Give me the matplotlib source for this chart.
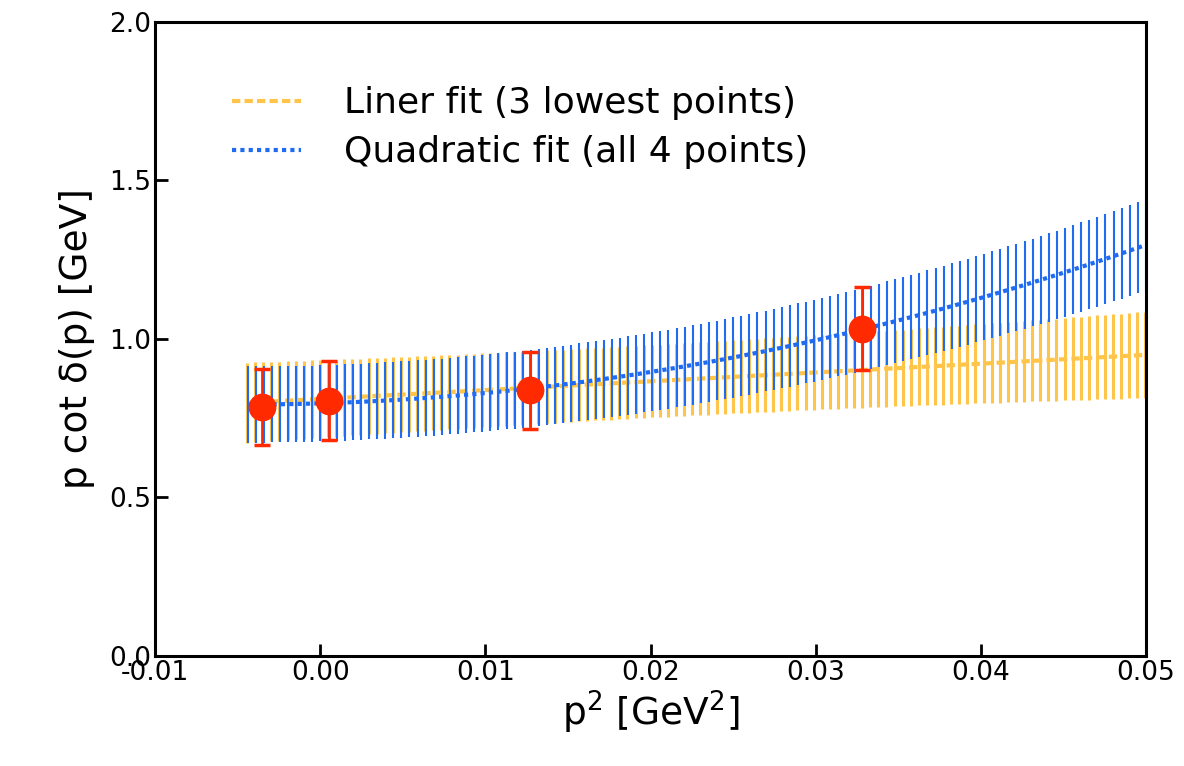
import numpy as np
import matplotlib
matplotlib.use("Agg")
import matplotlib.pyplot as plt

# lattice data points
p2 = [-0.0035, 0.0005, 0.0127, 0.0328]
pcot = [0.785, 0.805, 0.838, 1.033]
pcot_err = [0.12, 0.125, 0.122, 0.132]

# linear fit (3 lowest points): value = a0 + a1*x, variance = v00 + 2*v01*x + v11*x^2
lin_coef = [0.811, 2.78]
lin_var = [0.01496, -0.1035, 5.555]

# quadratic fit (all 4 points): value = c0 + c1*x + c2*x^2, half width = sqrt(s0^2 + (s1*x)^2)
quad_coef = [0.797, 1.58, 168.4]
quad_sig = [0.12, 1.6]

x_start, x_end, x_step = -0.0044, 0.0500, 0.00049

yellow = "#FFC54A"
blue = "#1F6BF2"
red = "#FF2A00"

plt.rcParams["font.family"] = ["DejaVu Sans"]

fig = plt.figure(figsize=(11.84, 7.66), dpi=100)
ax = fig.add_axes([0.131, 0.1436, 0.837, 0.8277])

xs = np.arange(x_start, x_end + 1e-9, x_step)

lin_c = lin_coef[0] + lin_coef[1] * xs
lin_h = np.sqrt(lin_var[0] + 2 * lin_var[1] * xs + lin_var[2] * xs ** 2)
quad_c = quad_coef[0] + quad_coef[1] * xs + quad_coef[2] * xs ** 2
quad_h = np.sqrt(quad_sig[0] ** 2 + (quad_sig[1] * xs) ** 2)

# bands drawn as vertical strokes
ax.vlines(xs - 0.00003, lin_c - lin_h, lin_c + lin_h, color=yellow, lw=2.2, zorder=1)
ax.plot(xs, lin_c, color=yellow, lw=3, ls=(0, (2, 1)), zorder=1.5,
        label="Liner fit (3 lowest points)")
ax.vlines(xs, quad_c - quad_h, quad_c + quad_h, color=blue, lw=1.5, zorder=2)
ax.plot(xs, quad_c, color=blue, lw=3, ls=(0, (1, 1)), zorder=2.5,
        label="Quadratic fit (all 4 points)")

ax.errorbar(p2, pcot, yerr=pcot_err, fmt="o", color=red, ms=19, ecolor=red,
            elinewidth=2, capsize=6, capthick=2.5, zorder=5)

ax.set_xlim(-0.01, 0.05)
ax.set_ylim(0.0, 2.0)
ax.set_xticks([-0.01, 0.0, 0.01, 0.02, 0.03, 0.04, 0.05])
ax.set_xticklabels(["-0.01", "0.00", "0.01", "0.02", "0.03", "0.04", "0.05"])
ax.set_yticks([0.0, 0.5, 1.0, 1.5, 2.0])
ax.set_yticklabels(["0.0", "0.5", "1.0", "1.5", "2.0"])
ax.tick_params(direction="in", length=9, width=2, labelsize=19, pad=3)
for s in ax.spines.values():
    s.set_linewidth(2.2)

ax.set_xlabel("p$^2$ [GeV$^2$]", fontsize=27, labelpad=2)
ax.set_ylabel("p cot δ(p) [GeV]", fontsize=27, labelpad=10)

ax.legend(loc="upper left", bbox_to_anchor=(0.045, 0.95), frameon=False,
          fontsize=26, handlelength=1.9, handletextpad=1.2, labelspacing=0.42)

fig.savefig("out.png", dpi=100)
